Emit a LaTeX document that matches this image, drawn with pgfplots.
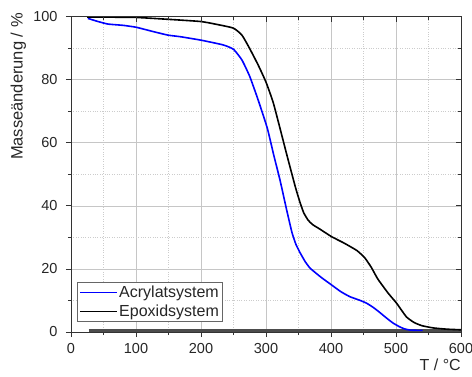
\documentclass[border=0pt]{standalone}
\usepackage{pgfplots}
\pgfplotsset{compat=1.18}
\usepackage{fontspec}
\setmainfont{Liberation Sans}
\begin{document}
\begin{tikzpicture}
\useasboundingbox (-71pt,-44pt) rectangle (401pt,332pt);
\begin{axis}[
  scale only axis, width=390pt, height=315.5pt,
  xmin=0, xmax=600, ymin=0, ymax=100,
  xtick={0,100,...,600}, ytick={0,20,...,100},
  minor x tick num=1, minor y tick num=1,
  grid=both,
  major grid style={gray!45, line width=0.6pt},
  minor grid style={gray!40, dotted, line width=0.5pt},
  tick align=outside, xtick pos=bottom, ytick pos=left,
  major tick length=5pt, minor tick length=3pt,
  axis line style={black!80, line width=0.9pt},
  tick style={black!80, line width=0.8pt},
  /pgf/number format/assume math mode=true,
  ticklabel style={font=\fontsize{14.5}{16}\selectfont, text=black!85},
  yticklabel style={xshift=-5pt},
  xticklabel style={yshift=-3pt},
  xlabel={T / °C},
  ylabel={Masseänderung / \%},
  xlabel style={at={(axis description cs:1,0)}, anchor=north east, inner sep=0pt, yshift=-27pt, font=\fontsize{16}{18}\selectfont, text=black!85},
  ylabel style={at={(axis description cs:-0.115,1.011)}, anchor=south east, inner sep=0pt, font=\fontsize{16.5}{18}\selectfont, text=black!85},
  legend style={at={(axis description cs:0.015,0.032)}, anchor=south west, draw=black!60, line width=0.6pt, fill=white,
    font=\fontsize{16}{18}\selectfont, text=black!85, row sep=3pt, inner sep=2pt, nodes={inner sep=1.5pt}},
  legend cell align=left,
  legend image code/.code={\draw[#1] (0pt,0pt) -- (37pt,0pt);},
]
\addplot[black!70, line width=2.5pt, forget plot] coordinates {(27,0.55) (600,0.55)};
\addplot[blue, line width=1.6pt, smooth, tension=0.3] coordinates {
(26,99.4) (40,98.5) (57,97.6) (80,97.2) (100,96.6) (125,95.3) (149,94.1) (168,93.6)
(200,92.5) (234,91) (250,89.6) (263,86.2) (275,81) (288,73.5) (302,64.6) (312,56)
(321.5,48.2) (332,38.5) (340,31.5) (346,27.8) (352,25.3) (360,22.4) (368,20.2)
(385,17.3) (401,14.9) (415,12.8) (429,11.2) (445,10) (455,9.1) (465,7.8) (475,6.2)
(485,4.5) (495,2.9) (505,1.7) (513,1.0) (522,0.6) (541,0.5)};
\addlegendentry{Acrylatsystem}
\addplot[black, line width=1.6pt, smooth, tension=0.3] coordinates {
(25,99.8) (50,99.8) (100,99.7) (150,99.1) (200,98.4) (229,97.3) (250,96.3) (263,94.1)
(275,89.8) (288,84.6) (300,79.2) (311,72.8) (321.5,64.6) (332,56.2) (345,46.1)
(352,41.3) (358,37.8) (365,35.4) (372,34) (383,32.6) (401,30.2) (420,28.2) (440,25.8)
(452,23.5) (462,20.5) (472,16.8) (488,12.3) (501,9.1) (516,4.8) (528,3.0) (540,2.0)
(557,1.3) (578,0.9) (600,0.7)};
\addlegendentry{Epoxidsystem}
\end{axis}
\begin{axis}[
  scale only axis, width=390pt, height=315.5pt,
  xmin=0, xmax=600, ymin=0, ymax=100,
  xtick={0,100,...,600}, ytick={0,20,...,100},
  minor x tick num=1, minor y tick num=1,
  tick align=inside, xtick pos=top, ytick pos=right,
  major tick length=5pt, minor tick length=3pt,
  xticklabels={}, yticklabels={},
  axis line style={black!80, line width=0.9pt},
  tick style={black!80, line width=0.8pt},
]
\end{axis}
\end{tikzpicture}
\end{document}
